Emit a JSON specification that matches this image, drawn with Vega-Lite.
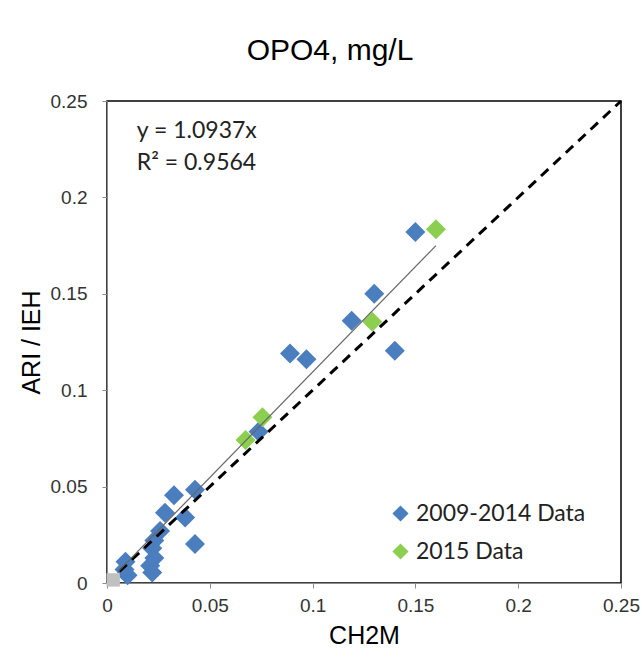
{
  "$schema": "https://vega.github.io/schema/vega-lite/v6.json",
  "width": 514,
  "height": 482,
  "autosize": {"type": "none"},
  "padding": {"left": 107, "top": 101, "right": 21, "bottom": 75},
  "background": "white",
  "title": {
    "text": "OPO4, mg/L",
    "font": "Liberation Sans",
    "fontSize": 30,
    "fontWeight": "normal",
    "color": "black",
    "anchor": "middle",
    "baseline": "alphabetic",
    "offset": 2,
    "dx": -34
  },
  "config": {
    "view": {"stroke": "black", "strokeWidth": 1.5},
    "axis": {
      "grid": false,
      "labelFlush": false,
      "domainColor": "#8c8c8c",
      "tickColor": "#8c8c8c",
      "tickSize": 5,
      "labelFont": "Liberation Sans",
      "labelFontSize": 19,
      "labelColor": "#333333",
      "titleFont": "Liberation Sans",
      "titleFontSize": 25,
      "titleFontWeight": "normal",
      "titleColor": "black"
    },
    "legend": {
      "orient": "none",
      "legendX": 282,
      "legendY": 401,
      "padding": 0,
      "symbolType": "diamond",
      "symbolSize": 260,
      "symbolStrokeWidth": 0,
      "labelFont": "Lato",
      "labelFontSize": 23,
      "labelLimit": 400,
      "labelColor": "#222222",
      "labelOffset": 4,
      "rowPadding": 14,
      "title": null
    }
  },
  "datasets": {
    "points": [
      {"ch2m": 0.150, "ari": 0.182, "series": "2009-2014 Data"},
      {"ch2m": 0.130, "ari": 0.150, "series": "2009-2014 Data"},
      {"ch2m": 0.119, "ari": 0.136, "series": "2009-2014 Data"},
      {"ch2m": 0.140, "ari": 0.1205, "series": "2009-2014 Data"},
      {"ch2m": 0.089, "ari": 0.119, "series": "2009-2014 Data"},
      {"ch2m": 0.097, "ari": 0.116, "series": "2009-2014 Data"},
      {"ch2m": 0.0737, "ari": 0.0785, "series": "2009-2014 Data"},
      {"ch2m": 0.0428, "ari": 0.0484, "series": "2009-2014 Data"},
      {"ch2m": 0.0326, "ari": 0.0455, "series": "2009-2014 Data"},
      {"ch2m": 0.0282, "ari": 0.0365, "series": "2009-2014 Data"},
      {"ch2m": 0.038, "ari": 0.034, "series": "2009-2014 Data"},
      {"ch2m": 0.0428, "ari": 0.0202, "series": "2009-2014 Data"},
      {"ch2m": 0.0258, "ari": 0.027, "series": "2009-2014 Data"},
      {"ch2m": 0.023, "ari": 0.022, "series": "2009-2014 Data"},
      {"ch2m": 0.022, "ari": 0.018, "series": "2009-2014 Data"},
      {"ch2m": 0.023, "ari": 0.013, "series": "2009-2014 Data"},
      {"ch2m": 0.021, "ari": 0.009, "series": "2009-2014 Data"},
      {"ch2m": 0.022, "ari": 0.0055, "series": "2009-2014 Data"},
      {"ch2m": 0.009, "ari": 0.011, "series": "2009-2014 Data"},
      {"ch2m": 0.010, "ari": 0.004, "series": "2009-2014 Data"},
      {"ch2m": 0.0085, "ari": 0.007, "series": "2009-2014 Data"},
      {"ch2m": 0.160, "ari": 0.1835, "series": "2015 Data"},
      {"ch2m": 0.129, "ari": 0.1355, "series": "2015 Data"},
      {"ch2m": 0.0756, "ari": 0.086, "series": "2015 Data"},
      {"ch2m": 0.0674, "ari": 0.0742, "series": "2015 Data"}
    ],
    "oneToOne": [
      {"ch2m": 0.0, "ari": 0.0},
      {"ch2m": 0.25, "ari": 0.25}
    ],
    "trend": [
      {"ch2m": 0.005, "ari": 0.00547},
      {"ch2m": 0.16, "ari": 0.175}
    ],
    "origin": [
      {"ch2m": 0.003, "ari": 0.0016}
    ],
    "notes": [
      {"ch2m": 0.0145, "ari": 0.2345, "label": "y = 1.0937x"},
      {"ch2m": 0.0145, "ari": 0.218, "label": "R² = 0.9564"}
    ]
  },
  "layer": [
    {
      "data": {"name": "points"},
      "mark": {"type": "point", "shape": "diamond", "filled": true, "size": 400, "opacity": 1},
      "encoding": {
        "x": {"field": "ch2m", "type": "quantitative", "scale": {"domain": [0, 0.25], "nice": false}, "axis": {"values": [0, 0.05, 0.1, 0.15, 0.2, 0.25], "format": "~g", "title": "CH2M", "labelPadding": 8, "titlePadding": 8}},
        "y": {"field": "ari", "type": "quantitative", "scale": {"domain": [0, 0.25], "nice": false}, "axis": {"values": [0, 0.05, 0.1, 0.15, 0.2, 0.25], "format": "~g", "title": "ARI / IEH", "labelPadding": 15, "titlePadding": 6}},
        "color": {"field": "series", "type": "nominal", "scale": {"domain": ["2009-2014 Data", "2015 Data"], "range": ["#4a7ebf", "#8ccf50"]}}
      }
    },
    {
      "data": {"name": "oneToOne"},
      "mark": {"type": "line", "color": "black", "strokeWidth": 3, "strokeDash": [10, 7]},
      "encoding": {
        "x": {"field": "ch2m", "type": "quantitative"},
        "y": {"field": "ari", "type": "quantitative"}
      }
    },
    {
      "data": {"name": "trend"},
      "mark": {"type": "line", "color": "#666666", "strokeWidth": 1.2},
      "encoding": {
        "x": {"field": "ch2m", "type": "quantitative"},
        "y": {"field": "ari", "type": "quantitative"}
      }
    },
    {
      "data": {"name": "origin"},
      "mark": {"type": "point", "shape": "square", "filled": true, "size": 180, "color": "#c0c0c0", "opacity": 1},
      "encoding": {
        "x": {"field": "ch2m", "type": "quantitative"},
        "y": {"field": "ari", "type": "quantitative"}
      }
    },
    {
      "data": {"name": "notes"},
      "mark": {"type": "text", "align": "left", "baseline": "middle", "font": "Lato", "fontSize": 23, "color": "#222222"},
      "encoding": {
        "x": {"field": "ch2m", "type": "quantitative"},
        "y": {"field": "ari", "type": "quantitative"},
        "text": {"field": "label"}
      }
    }
  ]
}
